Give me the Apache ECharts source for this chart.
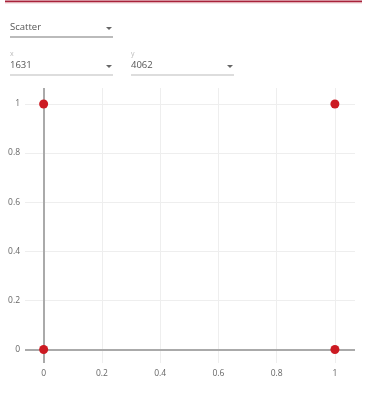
<!DOCTYPE html>
<html>
<head>
<meta charset="utf-8">
<script src="https://cdn.jsdelivr.net/npm/echarts@6/dist/echarts.min.js"></script>
<style>
html,body{margin:0;padding:0;background:#fff;}
#c{width:367px;height:394px;}
</style>
</head>
<body>
<div id="c"></div>
<script>
var xValues = [0, 0, 1, 1];
var yValues = [0, 1, 0, 1];
var xTicks = [0, 0.2, 0.4, 0.6, 0.8, 1];
var yTicks = [0, 0.2, 0.4, 0.6, 0.8, 1];
var chartType = 'Scatter';
var xLabel = 'x';
var yLabel = 'y';
var xChoice = '1631';
var yChoice = '4062';

var points = xValues.map(function (x, i) { return [x, yValues[i]]; });
var font = '"Open Sans", sans-serif';

function dropdown(x, y, w, label, value, lineW) {
  var els = [];
  if (label) {
    els.push({type: 'text', left: x, top: y - 16, style: {text: label, fill: '#bbb', font: '7px ' + font}});
  }
  els.push({type: 'text', left: x, top: y - 6, style: {text: value, fill: '#555', font: '9.5px ' + font}});
  els.push({type: 'polygon', shape: {points: [[x + w - 7, y - 1], [x + w - 1, y - 1], [x + w - 4, y + 2]]}, style: {fill: '#666'}});
  els.push({type: 'line', shape: {x1: x, y1: y + 9, x2: x + w, y2: y + 9}, style: {stroke: '#bbb', lineWidth: lineW}});
  return els;
}

var graphics = [
  {type: 'line', shape: {x1: 5, y1: 1.5, x2: 362, y2: 1.5}, style: {stroke: '#a8223a', lineWidth: 2}},
  {type: 'line', shape: {x1: 5, y1: 3, x2: 362, y2: 3}, style: {stroke: '#f0d0d4', lineWidth: 1}}
].concat(
  dropdown(10, 28, 103, null, chartType, 2),
  dropdown(10, 66, 103, xLabel, xChoice, 1),
  dropdown(131, 66, 103, yLabel, yChoice, 1)
);

var chart = echarts.init(document.getElementById('c'), null, {renderer: 'canvas'});
chart.setOption({
  animation: false,
  graphic: graphics,
  grid: {left: 25, right: 12, top: 88, bottom: 31, containLabel: false},
  xAxis: {
    type: 'value', min: -0.064, max: 1.069,
    axisLine: {show: false},
    axisTick: {show: false, customValues: xTicks},
    axisLabel: {customValues: xTicks, color: '#666', fontSize: 8.5, fontFamily: font, margin: 6},
    splitLine: {show: true, lineStyle: {color: '#eee', width: 1}}
  },
  yAxis: {
    type: 'value', min: -0.055, max: 1.065,
    axisLine: {show: false},
    axisTick: {show: false, customValues: yTicks},
    axisLabel: {customValues: yTicks, color: '#666', fontSize: 8.5, fontFamily: font, margin: 5},
    splitLine: {show: true, lineStyle: {color: '#eee', width: 1}}
  },
  series: [
    {
      type: 'scatter', data: [], z: 1, silent: true,
      markLine: {
        silent: true, symbol: ['none', 'none'], animation: false, z: 1,
        label: {show: false},
        lineStyle: {color: '#aaa', width: 2, type: 'solid'},
        data: [{xAxis: 0}, {yAxis: 0}]
      }
    },
    {
      type: 'scatter', data: points, z: 10,
      symbolSize: 9,
      itemStyle: {color: '#cc1a22', opacity: 1}
    }
  ]
});
</script>
</body>
</html>
